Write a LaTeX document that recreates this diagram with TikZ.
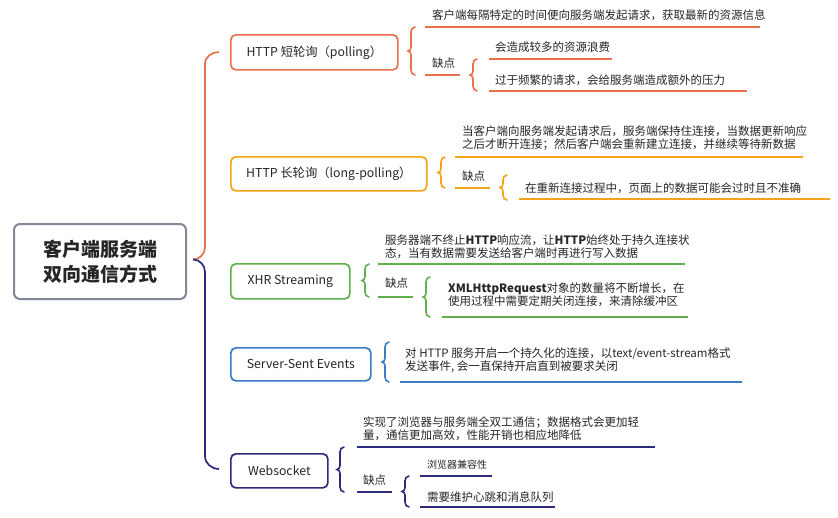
\documentclass[tikz,border=0pt]{standalone}
\usepackage{fontspec}
\setmainfont{Noto Sans CJK SC}
\definecolor{cOr}{HTML}{E9714D}
\definecolor{cYe}{HTML}{F2A516}
\definecolor{cGr}{HTML}{62B04B}
\definecolor{cBl}{HTML}{3B7BC8}
\definecolor{cNv}{HTML}{2B2B7C}
\definecolor{cRoot}{HTML}{808797}
\definecolor{cTx}{HTML}{262626}
\tikzset{
  box/.style={draw=#1, line width=1.7pt, rounded corners=5pt, fill=white, anchor=north west,
    text=cTx, font=\fontsize{12.3}{14}\selectfont, inner sep=0pt},
  txt/.style={anchor=west, inner sep=0pt, text=cTx, font=\fontsize{11.5}{13.5}\selectfont, align=left},
  uline/.style={draw=#1, line width=1.7pt},
  conn/.style={draw=#1, line width=1.7pt},
}
\newcommand{\mybrace}[4]{\draw[line width=1.6pt, draw=#1, line cap=round]
  ({#2+7},#3) to[out=180,in=90] ({#2+3},{#3+5}) -- ({#2+3},{(#3+#4)/2-4})
  to[out=-90,in=0] (#2,{(#3+#4)/2}) to[out=0,in=90] ({#2+3},{(#3+#4)/2+4})
  -- ({#2+3},{#4-5}) to[out=-90,in=180] ({#2+7},#4);}
\begin{document}
\begin{tikzpicture}[x=1pt,y=-1pt]
\fill[white] (0,0) rectangle (838,517);
\useasboundingbox (0,0) rectangle (838,517);

% root
\node[draw=cRoot, line width=2pt, rounded corners=6pt, fill=white, anchor=north west,
  minimum width=172pt, minimum height=75pt, inner sep=0pt, align=center, text=cTx,
  font=\fontsize{19}{25}\selectfont\bfseries] (root) at (13,223) {客户端服务端\\双向通信方式};

% main boxes
\node[box=cOr, minimum width=167pt, minimum height=35pt] (b1) at (230,34) {HTTP 短轮询（polling）};
\node[box=cYe, minimum width=196pt, minimum height=34pt] (b2) at (230,156) {HTTP 长轮询（long-polling）};
\node[box=cGr, minimum width=119pt, minimum height=35pt] (b3) at (230,263) {XHR Streaming};
\node[box=cBl, minimum width=140pt, minimum height=33pt] (b4) at (230,347) {Server-Sent Events};
\node[box=cNv, minimum width=97pt, minimum height=34pt] (b5) at (230,453) {Websocket};

% main connectors
\coordinate (j) at (193,259.5);
\coordinate (b1in) at (219,52);
\coordinate (b5in) at (219,469);
\draw[conn=cOr] (j) to[out=0,in=-90] (205,247) -- (205,64) to[out=90,in=180] (b1in);
\draw[conn=cNv] (j) to[out=0,in=90] (205,272) -- (205,456) to[out=-90,in=180] (b5in);

% section 1
\mybrace{cOr}{408}{27}{75}
\node[txt] (t1a) at (432,15) {客户端每隔特定的时间便向服务端发起请求，获取最新的资源信息};
\draw[uline=cOr] (425,27) -- (760,27);
\node[txt] (t1b) at (432,63) {缺点};
\draw[uline=cOr] (425,75) -- (460,75);
\mybrace{cOr}{470}{59}{91}
\node[txt] (t1c) at (495,47) {会造成较多的资源浪费};
\draw[uline=cOr] (489,59) -- (612,59);
\node[txt] (t1d) at (495,80) {过于频繁的请求，会给服务端造成额外的压力};
\draw[uline=cOr] (489,91) -- (747,91);

% section 2
\mybrace{cYe}{438}{157}{188}
\node[txt] (t2a) at (462,138) {当客户端向服务端发起请求后，服务端保持住连接，当数据更新响应\\之后才断开连接；然后客户端会重新建立连接，并继续等待新数据};
\draw[uline=cYe] (455,157) -- (803,157);
\node[txt] (t2b) at (462,176) {缺点};
\draw[uline=cYe] (455,188) -- (490,188);
\mybrace{cYe}{500}{175}{200}
\node[txt] (t2c) at (525,188) {在重新连接过程中，页面上的数据可能会过时且不准确};
\draw[uline=cYe] (519,199) -- (830,199);

% section 3
\mybrace{cGr}{362}{264}{297}
\node[txt] (t3a) at (385,246.5) {服务器端不终止\textbf{HTTP}响应流，让\textbf{HTTP}始终处于持久连接状\\态，当有数据需要发送给客户端时再进行写入数据};
\draw[uline=cGr] (378,264) -- (685,264);
\node[txt] (t3b) at (385,283) {缺点};
\draw[uline=cGr] (378,297) -- (413,297);
\mybrace{cGr}{423}{277}{317}
\node[txt] (t3c) at (448,295) {\textbf{XMLHttpRequest}对象的数量将不断增长，在\\使用过程中需要定期关闭连接，来清除缓冲区};
\draw[uline=cGr] (442,317) -- (688,317);

% section 4
\mybrace{cBl}{382}{342}{382}
\node[txt] (t4) at (405,360) {对 HTTP 服务开启一个持久化的连接，以text/event-stream格式\\发送事件, 会一直保持开启直到被要求关闭};
\draw[uline=cBl] (400,382) -- (742,382);

% section 5
\mybrace{cNv}{337}{447}{492}
\node[txt] (t5a) at (363,428.5) {实现了浏览器与服务端全双工通信；数据格式会更加轻\\量，通信更加高效，性能开销也相应地降低};
\draw[uline=cNv] (357,447) -- (655,447);
\node[txt] (t5b) at (363,480) {缺点};
\draw[uline=cNv] (357,492) -- (392,492);
\mybrace{cNv}{402}{476}{507}
\node[txt, font=\fontsize{10}{12}\selectfont] (t5c) at (427,465) {浏览器兼容性};
\draw[uline=cNv] (420,476) -- (492,476);
\node[txt] (t5d) at (427,497) {需要维护心跳和消息队列};
\draw[uline=cNv] (420,507) -- (555,507);
\end{tikzpicture}
\end{document}
